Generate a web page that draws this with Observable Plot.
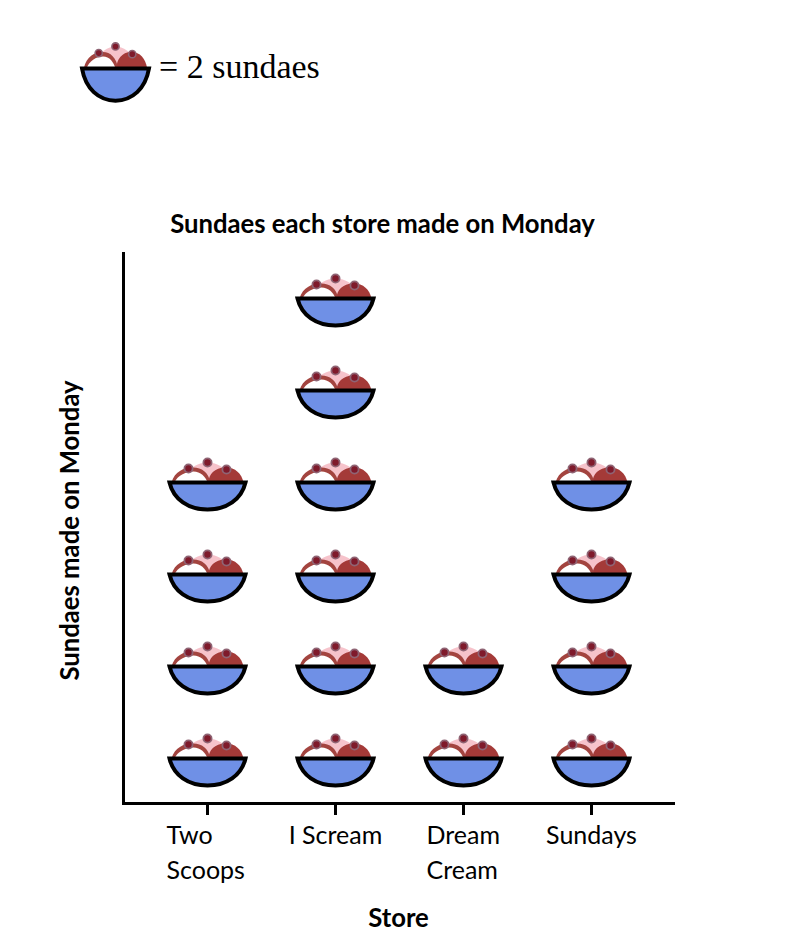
<!DOCTYPE html>
<html>
<head>
<meta charset="utf-8">
<script src="https://cdn.jsdelivr.net/npm/d3@7"></script>
<script src="https://cdn.jsdelivr.net/npm/@observablehq/plot@0.6"></script>
<style>
html,body{margin:0;padding:0;background:#fff;overflow:hidden}
#page{position:relative;width:800px;height:933px;font-family:Lato,sans-serif;color:#000}
#legendIcon{position:absolute;left:65px;top:28px}
#legendText{position:absolute;left:159px;top:49px;font:34px/36px "Liberation Serif",serif;white-space:nowrap}
#title{position:absolute;left:0;width:765px;top:208px;text-align:center;font:700 25.7px/30px Lato,sans-serif;white-space:nowrap}
#chart{position:absolute;left:0;top:245px}
svg{display:block}
</style>
</head>
<body>
<div id="page">
  <div id="legendIcon"></div>
  <div id="legendText">= 2 sundaes</div>
  <div id="title">Sundaes each store made on Monday</div>
  <div id="chart"></div>
</div>
<script>
const stores = ["Two Scoops", "I Scream", "Dream Cream", "Sundays"];
const sundaes = [8, 12, 4, 8];
const sundaesPerIcon = 2;
const tickLabels = ["Two\nScoops", "I Scream", "Dream\nCream", "Sundays"];
const chartTitle = "Sundaes each store made on Monday";
const xLabel = "Store";
const yLabel = "Sundaes made on Monday";

const icons = stores.flatMap((store, i) =>
  d3.range(sundaesPerIcon, sundaes[i] + 1, sundaesPerIcon).map(count => ({store, count}))
);

// Icon parts, drawn around the middle of the bowl's rim; r = half the rim width.
// stretch makes a part taller than the base shape.
function part(stretch, draw) {
  return {draw(ctx, size) {
    const k = Math.sqrt(size / Math.PI) / 38, v = k * stretch;
    draw({
      M: (x, y) => ctx.moveTo(x * k, y * v),
      L: (x, y) => ctx.lineTo(x * k, y * v),
      C: (a, b, c, d, e, f) => ctx.bezierCurveTo(a * k, b * v, c * k, d * v, e * k, f * v),
      O: (x, y, r) => { ctx.moveTo((x + r) * k, y * v); ctx.arc(x * k, y * v, r * k, 0, 2 * Math.PI); },
      Z: () => ctx.closePath()
    });
  }};
}

function iconLayers(data, position, r, strokeWidth, topStretch, bowlStretch) {
  const t = topStretch, b = bowlStretch;
  const layer = (symbol, fill, extra = {}) =>
    Plot.dot(data, {...position, r, symbol, fill, stroke: "none", ...extra});
  return [
    layer(part(t, p => { p.M(-21, -10); p.C(-13, -18, -6, -20, 0, -20); p.C(6, -20, 13, -18, 21, -10); p.L(0, 0); p.Z(); }), "#f6c3cb"),
    layer(part(t, p => { p.M(1, 0); p.C(1, -8, 7, -15, 18, -15); p.C(28, -15, 34, -9, 36, 0); p.Z(); }), "#a43a38"),
    layer(part(t, p => { p.M(-36, 0); p.C(-33, -11, -24, -15, -14, -15); p.C(-6, -15, 1, -10, 3, 0); p.Z(); }), "#a3443f"),
    layer(part(t, p => { p.M(-33, 0); p.C(-30, -7, -22, -11, -14, -11); p.C(-7, -11, -2, -6, 0, 0); p.Z(); }), "#ffffff"),
    layer(part(t, p => { p.O(-19, -14, 5); p.O(0, -20, 5); p.O(19, -13, 5); }), "#8f6474"),
    layer(part(t, p => { p.O(-19, -14, 3.2); p.O(0, -20, 3.2); p.O(19, -13, 3.2); }), "#7f1a2b"),
    layer(part(b, p => { p.M(-38, 0); p.L(38, 0); p.C(34, 17, 19, 27, 0, 27); p.C(-19, 27, -34, 17, -38, 0); p.Z(); }), "#6f90e6", {stroke: "#000", strokeWidth})
  ];
}

const font = {fontFamily: "Lato, sans-serif", fill: "#000"};
const labelRows = stores.map((s, i) => ({store: s, label: tickLabels[i]}));
const twoLine = labelRows.filter(d => d.label.includes("\n"));
const oneLine = labelRows.filter(d => !d.label.includes("\n"));
const twoLineOffsets = [-41, -37];

const chart = Plot.plot({
  width: 800,
  height: 688,
  marginTop: 8,
  marginBottom: 130,
  marginLeft: 123,
  marginRight: 127,
  style: {background: "#fff", overflow: "visible"},
  x: {type: "point", domain: stores, range: [207, 591], padding: 0},
  y: {domain: [2, 12], range: [513, 53]},
  marks: [
    Plot.frame({anchor: "bottom", stroke: "#000", strokeWidth: 3}),
    Plot.frame({anchor: "left", stroke: "#000", strokeWidth: 3}),
    Plot.axisX({tickSize: 12, tickFormat: () => "", label: null, strokeWidth: 3, stroke: "#000"}),
    Plot.axisY({ticks: [], label: null}),
    ...iconLayers(icons, {x: "store", y: "count"}, 38, 4, 1, 1),
    ...twoLine.map((row, i) => Plot.text([row], {
      x: "store", text: "label", frameAnchor: "bottom", lineAnchor: "top", textAnchor: "start",
      dx: twoLineOffsets[i], dy: 16, fontSize: 25, lineHeight: 1.4, ...font
    })),
    Plot.text(oneLine, {
      x: "store", text: "label", frameAnchor: "bottom", lineAnchor: "top", textAnchor: "middle",
      dy: 23, fontSize: 25, ...font
    }),
    Plot.text([xLabel], {frameAnchor: "bottom", lineAnchor: "middle", textAnchor: "middle", dy: 115, fontSize: 25.7, fontWeight: 700, ...font}),
    Plot.text([yLabel], {frameAnchor: "left", lineAnchor: "middle", textAnchor: "middle", rotate: -90, dx: -53, dy: 2, fontSize: 25.7, fontWeight: 700, ...font})
  ]
});
document.getElementById("chart").append(chart);

const legendIcon = Plot.plot({
  width: 100,
  height: 80,
  margin: 0,
  axis: null,
  style: {background: "transparent", overflow: "visible"},
  marks: iconLayers([sundaesPerIcon], {frameAnchor: "middle"}, 33.5, 4, 1.25, 1.35)
});
document.getElementById("legendIcon").append(legendIcon);
document.getElementById("title").textContent = chartTitle;
</script>
</body>
</html>
